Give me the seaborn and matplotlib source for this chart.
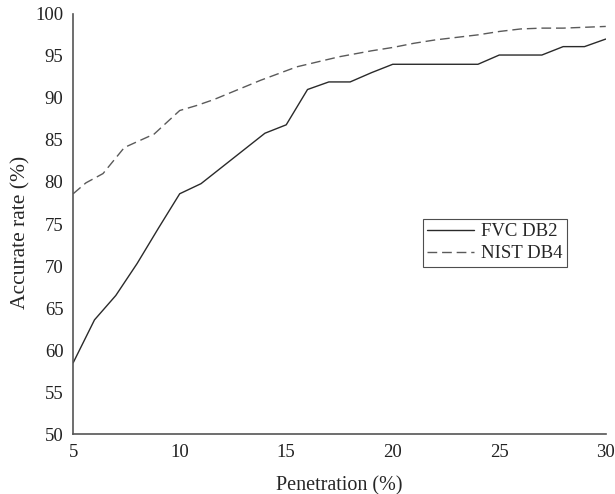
import pandas as pd
import matplotlib
matplotlib.use("Agg")
import matplotlib.pyplot as plt
import seaborn as sns

# -------------------------
# DATA
# -------------------------
fvc_x = list(range(5, 31))
fvc_y = [58.5, 63.6, 66.5, 70.3, 74.5, 78.6, 79.8, 81.8, 83.8, 85.8,
         86.8, 91.0, 91.9, 91.9, 93.0, 94.0, 94.0, 94.0, 94.0, 94.0,
         95.1, 95.1, 95.1, 96.1, 96.1, 97.0]

nist_x = [5, 5.6, 6.4, 7.4, 8.8, 10, 10.8, 11.6, 13.8, 15.5, 17.5,
          19, 20, 21, 22, 23, 24, 25, 26, 27, 28, 29, 30]
nist_y = [78.6, 79.9, 81.0, 84.1, 85.7, 88.5, 89.1, 89.8, 92.1, 93.7, 94.9,
          95.6, 96.0, 96.5, 96.9, 97.2, 97.5, 97.9, 98.2, 98.3, 98.3, 98.4, 98.5]

labels = ["FVC DB2", "NIST DB4"]

df = pd.concat([
    pd.DataFrame({"x": fvc_x, "y": fvc_y, "series": labels[0]}),
    pd.DataFrame({"x": nist_x, "y": nist_y, "series": labels[1]}),
])

# -------------------------
# PLOT
# -------------------------
sns.set_style("white")
plt.rcParams["font.family"] = ["Liberation Serif", "DejaVu Serif"]

fig = plt.figure(figsize=(6.15, 4.94), dpi=100)
ax = fig.add_axes([0.119, 0.121, 0.866, 0.851])

sns.lineplot(
    data=df, x="x", y="y", hue="series", style="series",
    palette={labels[0]: "#2a2a2a", labels[1]: "#5a5a5a"},
    dashes={labels[0]: "", labels[1]: (7, 3.5)},
    linewidth=1.0, ax=ax, estimator=None, sort=False,
)

ax.set_xlim(5, 30)
ax.set_ylim(50, 100)
ax.set_xticks(range(5, 31, 5))
ax.set_yticks(range(50, 101, 5))
ax.tick_params(direction="in", length=4.5, width=1, labelsize=13.5,
               colors="#222222", pad=7)
for s in ["top", "right"]:
    ax.spines[s].set_visible(False)
for s in ["left", "bottom"]:
    ax.spines[s].set_color("#555555")
    ax.spines[s].set_linewidth(1.2)

ax.set_xlabel("Penetration (%)", fontsize=14.5, labelpad=11)
ax.set_ylabel("Accurate rate (%)", fontsize=15.5)
ax.yaxis.set_label_coords(-0.081, 0.481)

leg = ax.legend(loc="upper left", bbox_to_anchor=(0.656, 0.512),
                fontsize=13.5, frameon=True, fancybox=False,
                handlelength=2.5, borderpad=0.23, labelspacing=0.25,
                handletextpad=0.37, borderaxespad=0)
leg.get_frame().set_edgecolor("#222222")
leg.get_frame().set_linewidth(0.8)

plt.savefig("out.png", dpi=100)
plt.close()
